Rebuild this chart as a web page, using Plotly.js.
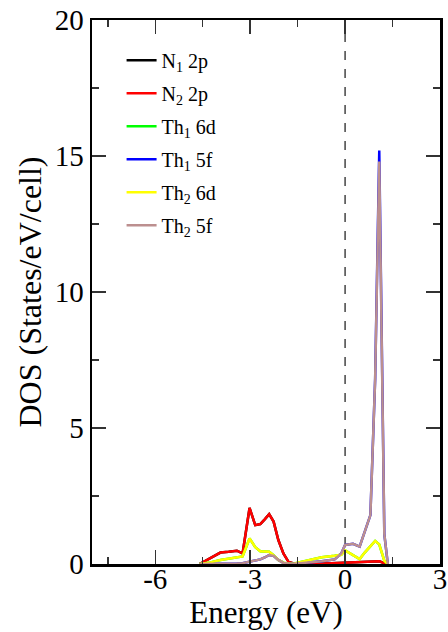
<!DOCTYPE html>
<html>
<head>
<meta charset="utf-8">
<script src="https://cdn.plot.ly/plotly-3.0.1.min.js"></script>
<style>
html,body{margin:0;padding:0;background:#fff;}
#chart{width:448px;height:632px;}
#chart svg text{font-family:"Liberation Serif","Times New Roman",serif !important;}
</style>
</head>
<body>
<div id="chart"></div>
<script>
// Energy grid (eV)
const energy = [-4.6, -4.47, -4.26, -3.94, -3.68, -3.42, -3.24, -3.02, -2.84, -2.68, -2.54, -2.40, -2.26, -2.11, -1.95, -1.79, -1.6, -1.48, -1.0, -0.74, -0.33, -0.12, 0.0, 0.25, 0.46, 0.62, 0.80, 0.95, 1.08, 1.24, 1.35];

const n1_2p  = [0, 0.08, 0.2, 0.42, 0.45, 0.49, 0.39, 2.06, 1.43, 1.47, 1.64, 1.83, 1.56, 0.88, 0.39, 0.08, 0.01, 0, 0, 0.01, 0.03, 0.05, 0.06, 0.07, 0.07, 0.08, 0.09, 0.1, 0.1, 0.03, 0];
const n2_2p  = [0, 0.08, 0.2, 0.42, 0.45, 0.49, 0.39, 2.06, 1.43, 1.47, 1.64, 1.83, 1.56, 0.88, 0.39, 0.08, 0.01, 0, 0, 0.01, 0.03, 0.05, 0.06, 0.07, 0.07, 0.08, 0.09, 0.1, 0.1, 0.03, 0];
const th1_6d = [0, 0.02, 0.06, 0.15, 0.2, 0.24, 0.28, 0.94, 0.62, 0.47, 0.45, 0.45, 0.32, 0.15, 0.05, 0.01, 0.02, 0.05, 0.18, 0.25, 0.3, 0.34, 0.5, 0.33, 0.18, 0.42, 0.65, 0.85, 0.72, 0.12, 0];
const th1_5f = [0, 0, 0.01, 0.01, 0.02, 0.02, 0.03, 0.08, 0.12, 0.17, 0.24, 0.33, 0.3, 0.15, 0.04, 0.01, 0.01, 0.02, 0.06, 0.1, 0.17, 0.39, 0.7, 0.74, 0.64, 1.2, 1.8, 6.8, 15.2, 1.1, 0];
const th2_6d = [0, 0.02, 0.06, 0.15, 0.2, 0.24, 0.28, 0.94, 0.62, 0.47, 0.45, 0.45, 0.32, 0.15, 0.05, 0.01, 0.02, 0.05, 0.18, 0.25, 0.3, 0.34, 0.5, 0.33, 0.18, 0.42, 0.65, 0.85, 0.72, 0.12, 0];
const th2_5f = [0, 0, 0.01, 0.01, 0.02, 0.02, 0.03, 0.08, 0.12, 0.17, 0.24, 0.33, 0.3, 0.15, 0.04, 0.01, 0.01, 0.02, 0.06, 0.1, 0.17, 0.39, 0.7, 0.74, 0.64, 1.2, 1.8, 6.8, 14.8, 1.1, 0];

const seriesNames = ["N<sub>1</sub> 2p", "N<sub>2</sub> 2p", "Th<sub>1</sub> 6d", "Th<sub>1</sub> 5f", "Th<sub>2</sub> 6d", "Th<sub>2</sub> 5f"];
const seriesColors = ["#000000", "#ff0000", "#00ff00", "#0000ff", "#ffff00", "#bc8f8f"];
const seriesValues = [n1_2p, n2_2p, th1_6d, th1_5f, th2_6d, th2_5f];

const xTickVals = [-6, -3, 0, 3];
const xTickText = ["-6", "-3", "0", "3"];
const yTickVals = [0, 5, 10, 15, 20];
const yTickText = ["0", "5", "10", "15", "20"];

const traces = seriesValues.map((v, i) => ({
  x: energy, y: v, type: "scatter", mode: "lines",
  name: seriesNames[i], legendgroup: "g" + i,
  line: {color: seriesColors[i], width: 2.5}
}));

const font = "Liberation Serif, Times New Roman, serif";
const axisCommon = {
  showline: true, linecolor: "#000", linewidth: 2.5, mirror: "ticks",
  ticks: "inside", ticklen: 14, tickwidth: 1.5, tickcolor: "#333",
  showgrid: false, zeroline: false, layer: "above traces",
  tickfont: {family: font, size: 29, color: "#000"}
};

const layout = {
  width: 448, height: 632,
  margin: {l: 92, r: 8, t: 20, b: 68},
  paper_bgcolor: "#fff", plot_bgcolor: "#fff",
  font: {family: font},
  showlegend: true,
  legend: {x: 0.085, y: 0.962, xanchor: "left", yanchor: "top", bgcolor: "rgba(0,0,0,0)",
           font: {family: font, size: 20, color: "#000"}, tracegroupgap: 4},
  xaxis: Object.assign({}, axisCommon, {
    range: [-8, 3], tickmode: "array", tickvals: xTickVals, ticktext: xTickText,
    ticklabelstandoff: -12,
    minor: {dtick: 1.5, tick0: 0, ticklen: 7, tickwidth: 1.5, tickcolor: "#333", ticks: "inside"},
    title: {text: "Energy (eV)", font: {family: font, size: 31, color: "#000"}, standoff: 2}
  }),
  yaxis: Object.assign({}, axisCommon, {
    range: [0, 20], tickmode: "array", tickvals: yTickVals, ticktext: yTickText,
    minor: {dtick: 2.5, tick0: 0, ticklen: 7, tickwidth: 1.5, tickcolor: "#333", ticks: "inside"},
    title: {text: "DOS (States/eV/cell)", font: {family: font, size: 32, color: "#000"}, standoff: 4}
  }),
  shapes: [{type: "line", xref: "x", yref: "paper", x0: 0, x1: 0, y0: 0, y1: 1,
            line: {color: "#444", width: 1.5, dash: "dash"}, layer: "below"}]
};

Plotly.newPlot("chart", traces, layout, {displayModeBar: false, staticPlot: true});
</script>
</body>
</html>
